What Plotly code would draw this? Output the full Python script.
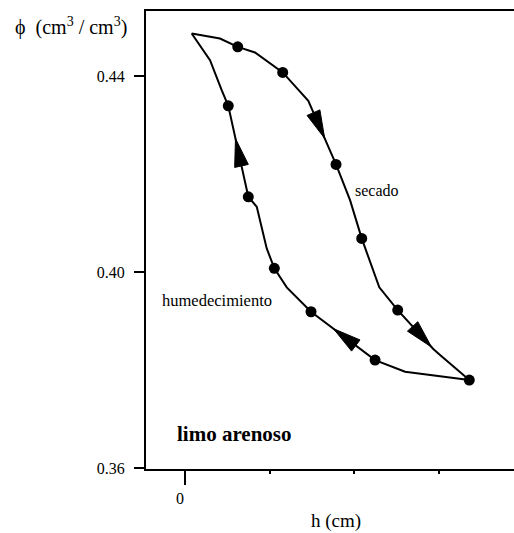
import numpy as np
import plotly.graph_objects as go

# ---------------- data ----------------
# drying curve (secado), ordered in drying direction
dry_h = [0.079, 0.414, 0.624, 0.828, 1.156, 1.459, 1.787, 1.953, 2.091, 2.299, 2.517, 2.938, 3.018, 3.364]
dry_phi = [0.4487, 0.44769, 0.44598, 0.44484, 0.44076, 0.43496, 0.42198, 0.41469, 0.40688, 0.39688, 0.39224, 0.38429, 0.38306, 0.37796]
dry_marker_idx = [2, 4, 6, 8, 10, 13]
dry_arrows = [(5, 0.59), (10, 0.95)]  # (segment index, fraction along segment)

# wetting curve (humedecimiento), ordered in wetting direction
wet_h = [3.364, 2.604, 2.249, 1.491, 1.204, 1.057, 0.967, 0.849, 0.749, 0.512, 0.434, 0.296, 0.079]
wet_phi = [0.37796, 0.37965, 0.38204, 0.39190, 0.39688, 0.40076, 0.40484, 0.41333, 0.41537, 0.43394, 0.43714, 0.44327, 0.4487]
wet_marker_idx = [2, 3, 5, 8, 9]
wet_arrows = [(2, 0.65), (8, 0.64)]

y_tickvals = [0.36, 0.40, 0.44]
y_ticktext = ["0.36", "0.40", "0.44"]
x_tickvals = [0]
x_ticktext = ["0"]
x_minor_ticks = [1, 2, 3]

# ---------------- layout geometry ----------------
W, H = 514, 533
ML, MR, MT, MB = 146, 0, 11, 64
plot_w = W - ML - MR
plot_h = H - MT - MB
x_range = [-0.4615, 3.893]
y_range = [0.3598, 0.4533]
sx = plot_w / (x_range[1] - x_range[0])
sy = plot_h / (y_range[1] - y_range[0])

FONT = "Liberation Serif, Times New Roman, serif"

fig = go.Figure()

def add_curve(hs, ps, midx, arrows):
    fig.add_trace(go.Scatter(x=hs, y=ps, mode="lines",
                             line=dict(color="black", width=2),
                             hoverinfo="skip", showlegend=False))
    fig.add_trace(go.Scatter(x=[hs[i] for i in midx], y=[ps[i] for i in midx],
                             mode="markers",
                             marker=dict(color="black", size=11),
                             hoverinfo="skip", showlegend=False))
    L, Wd = 28.0, 14.0
    for seg, f in arrows:
        x0, y0 = hs[seg] * sx, ps[seg] * sy
        x1, y1 = hs[seg + 1] * sx, ps[seg + 1] * sy
        tx, ty = x0 + f * (x1 - x0), y0 + f * (y1 - y0)
        d = np.array([x1 - x0, y1 - y0])
        d = d / np.linalg.norm(d)
        n = np.array([-d[1], d[0]])
        bx, by = tx - L * d[0], ty - L * d[1]
        pts = [(tx, ty), (bx + n[0] * Wd / 2, by + n[1] * Wd / 2),
               (bx - n[0] * Wd / 2, by - n[1] * Wd / 2), (tx, ty)]
        fig.add_trace(go.Scatter(x=[p[0] / sx for p in pts], y=[p[1] / sy for p in pts],
                                 mode="lines", fill="toself", fillcolor="black",
                                 line=dict(color="black", width=1),
                                 hoverinfo="skip", showlegend=False))

add_curve(dry_h, dry_phi, dry_marker_idx, dry_arrows)
add_curve(wet_h, wet_phi, wet_marker_idx, wet_arrows)

annotations = [
    dict(x=1.988, y=0.41673, xref="x", yref="y", text="secado", showarrow=False,
         xanchor="left", yanchor="middle", font=dict(size=16, family=FONT, color="black")),
    dict(x=-0.296, y=0.39429, xref="x", yref="y", text="humedecimiento", showarrow=False,
         xanchor="left", yanchor="middle", font=dict(size=16.5, family=FONT, color="black")),
    dict(x=-0.118, y=0.36694, xref="x", yref="y", text="<b>limo arenoso</b>", showarrow=False,
         xanchor="left", yanchor="middle", font=dict(size=21, family=FONT, color="black")),
    dict(x=(13 - ML) / plot_w, y=(H - MB - 26) / plot_h, xref="paper", yref="paper",
         text="ϕ&nbsp;&nbsp;(cm<sup>3</sup>&nbsp;/&nbsp;cm<sup>3</sup>)", showarrow=False,
         xanchor="left", yanchor="middle", font=dict(size=20, family=FONT, color="black")),
    dict(x=(336 - ML) / plot_w, y=-(521 - (H - MB)) / plot_h, xref="paper", yref="paper",
         text="h (cm)", showarrow=False,
         xanchor="center", yanchor="middle", font=dict(size=19, family=FONT, color="black")),
]

fig.update_layout(
    width=W, height=H,
    margin=dict(l=ML, r=MR, t=MT, b=MB, pad=0),
    paper_bgcolor="white", plot_bgcolor="white",
    font=dict(family=FONT, size=16, color="black"),
    showlegend=False,
    annotations=annotations,
    xaxis=dict(range=x_range, showgrid=False, zeroline=False,
               showline=True, linecolor="black", linewidth=2, mirror=True,
               tickmode="array", tickvals=x_tickvals, ticktext=x_ticktext,
               ticks="outside", ticklen=14, tickwidth=2, tickcolor="black",
               ticklabelshift=-5,
               tickfont=dict(size=16, family=FONT, color="black"),
               minor=dict(tickmode="array", tickvals=x_minor_ticks, ticks="outside",
                          ticklen=3, tickwidth=2, tickcolor="black", showgrid=False)),
    yaxis=dict(range=y_range, showgrid=False, zeroline=False,
               showline=True, linecolor="black", linewidth=2,
               tickmode="array", tickvals=y_tickvals, ticktext=y_ticktext,
               ticks="outside", ticklen=10, tickwidth=2, tickcolor="black",
               ticklabelstandoff=6,
               tickfont=dict(size=16, family=FONT, color="black")),
)

fig.write_html("out.html", config={"displayModeBar": False},
               post_script="document.body.style.margin='0';")
